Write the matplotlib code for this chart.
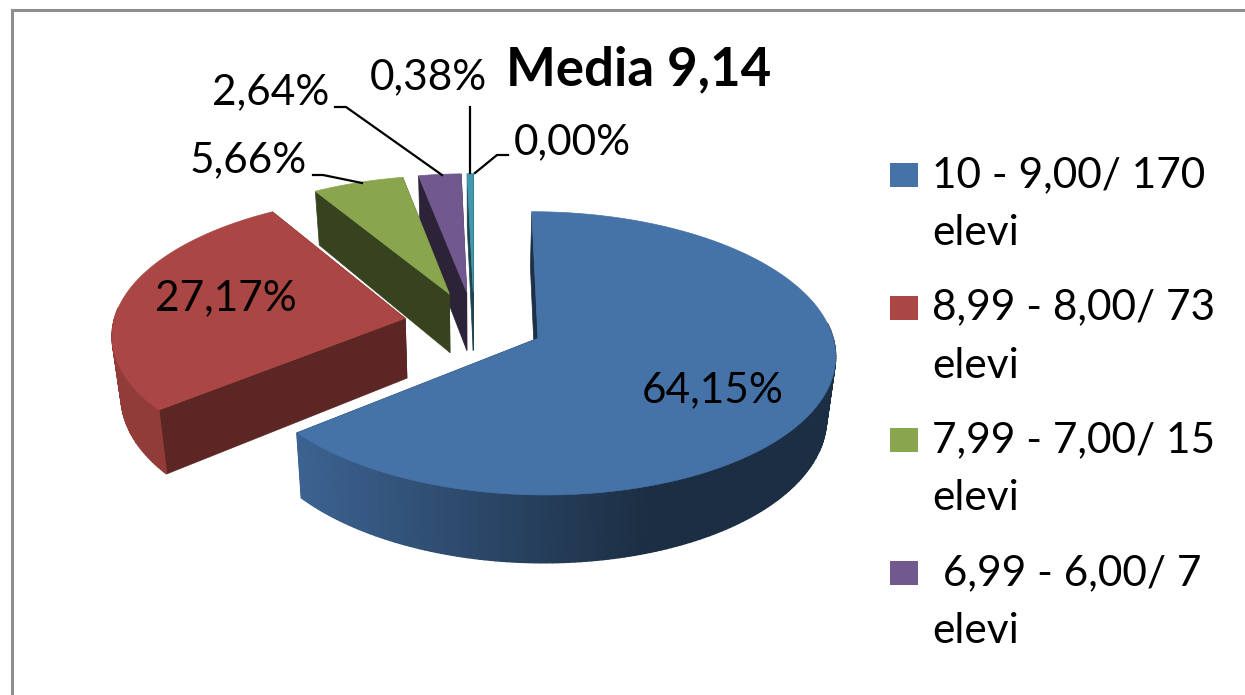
import numpy as np
import matplotlib
matplotlib.use("Agg")
import matplotlib.pyplot as plt
from matplotlib.colors import to_rgb
from matplotlib.patches import Polygon, Rectangle

plt.rcParams["font.family"] = ["Lato", "DejaVu Sans"]

# Donnees du graphique
percentages = [64.15, 27.17, 5.66, 2.64, 0.38, 0.00]
percent_labels = ["64,15%", "27,17%", "5,66%", "2,64%", "0,38%", "0,00%"]
slice_colors = ["#4572A7", "#AA4643", "#89A54E", "#71588F", "#4198AF", "#DB843D"]
face_dark = [0.42, 0.54, 0.40, 0.40, 0.45, 0.45]
legend_labels = [
    ["10 - 9,00/ 170", "elevi"],
    ["8,99 - 8,00/ 73", "elevi"],
    ["7,99 - 7,00/ 15", "elevi"],
    [" 6,99 - 6,00/ 7", "elevi"],
]
title_text = "Media 9,14"

# Projection de la tarte (pixels de l'image)
CX, CY = 474, 324
RX, RY = 292, 137
PERSP = 0.105
DEPTH = 60
EXPLODE = 0.24


def project(px, py, low=False):
    den = 1 + PERSP * py
    sx = CX + RX * px / den
    sy = CY - RY * py / den
    if low:
        sx = CX + (sx - CX) * 0.975
        sy = sy + DEPTH / den
    return sx, sy


def shade(color, factor):
    return tuple(c * factor for c in to_rgb(color))


fig, ax = plt.subplots(figsize=(12.45, 6.95), dpi=100)
fig.subplots_adjust(0, 0, 1, 1)

wedges, _ = ax.pie(percentages, colors=slice_colors, startangle=90,
                   counterclock=False, radius=1,
                   explode=[EXPLODE] * len(percentages))
geometry = [(w.center, w.theta1, w.theta2) for w in wedges]
for w in wedges:
    w.remove()

ax.set_aspect("auto")
ax.set_xlim(0, 1245)
ax.set_ylim(695, 0)
ax.axis("off")

# Du fond vers l'avant
for i in [4, 3, 2, 1, 0]:
    (ox, oy), t1, t2 = geometry[i]
    color = slice_colors[i]
    angles = np.radians(np.linspace(t1, t2, max(int(t2 - t1), 4)))
    px = ox + np.cos(angles)
    py = oy + np.sin(angles)
    hx, hy = project(px, py)
    lx, ly = project(px, py, low=True)

    # faces interieures
    ax_top = project(ox, oy)
    ax_low = project(ox, oy, low=True)
    for k in [0, -1]:
        quad = [ax_top, (hx[k], hy[k]), (lx[k], ly[k]), ax_low]
        dark = shade(color, face_dark[i])
        ax.add_patch(Polygon(quad, closed=True, fc=dark, ec=dark, lw=0.5))

    # bord exterieur visible seulement vers l'avant, degrade selon x
    for j in range(len(angles) - 1):
        if np.sin(angles[j]) > 0.1:
            continue
        t = np.clip((hx[j] - 300) / 350, 0, 1)
        rim = shade(color, 0.86 - 0.46 * t)
        quad = [(hx[j], hy[j]), (hx[j + 1], hy[j + 1]),
                (lx[j + 1], ly[j + 1]), (lx[j], ly[j])]
        ax.add_patch(Polygon(quad, closed=True, fc=rim, ec=rim, lw=1.0))

    # dessus
    top = [ax_top] + list(zip(hx, hy))
    ax.add_patch(Polygon(top, closed=True, fc=color, ec=color, lw=0.5))

# Cadre
frame_color = "#8E8E8E"
ax.plot([11.5, 11.5, 1245], [695, 10, 10], color=frame_color, lw=2.2,
        solid_joinstyle="miter")

# Etiquettes
FS = 30.5
ax.text(713, 390, percent_labels[0], fontsize=FS, ha="center", va="center")
ax.text(226, 298, percent_labels[1], fontsize=FS, ha="center", va="center")
ax.text(248, 160, percent_labels[2], fontsize=FS, ha="center", va="center")
ax.text(271, 92, percent_labels[3], fontsize=FS, ha="center", va="center")
ax.text(428, 77, percent_labels[4], fontsize=FS, ha="center", va="center")
ax.text(572, 142, percent_labels[5], fontsize=FS, ha="center", va="center")
ax.text(639, 70, title_text, fontsize=38, fontweight="bold", ha="center",
        va="center")

# Lignes de rappel
leaders = [
    ([313, 323, 362], [175, 175, 183]),
    ([335, 346, 442], [107, 107, 175]),
    ([470, 470], [107, 173]),
    ([508, 497, 475], [155, 155, 173]),
]
for xs, ys in leaders:
    ax.plot(xs, ys, color="black", lw=1.6)

# Legende
for i, (line1, line2) in enumerate(legend_labels):
    y0 = 175 + i * 132.7
    ax.add_patch(Rectangle((890, y0 - 12), 28, 24, fc=slice_colors[i],
                           ec="none"))
    ax.text(932, y0, line1, fontsize=FS, ha="left", va="center")
    ax.text(932, y0 + 58, line2, fontsize=FS, ha="left", va="center")

fig.savefig("out.png", dpi=100)
